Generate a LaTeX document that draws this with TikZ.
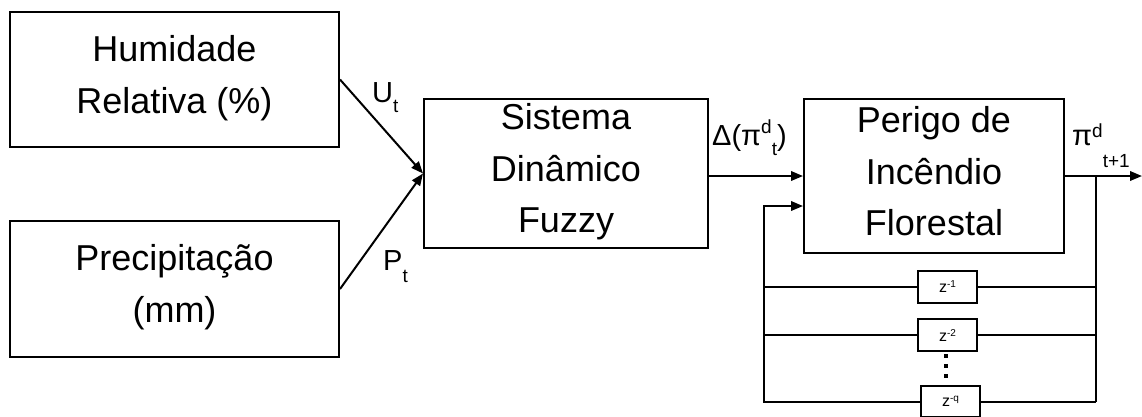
\documentclass[tikz,border=0pt]{standalone}
\usepackage{fontspec}
\setmainfont{Liberation Sans}
\usetikzlibrary{arrows.meta}
\newcommand\upx[2][12pt]{\raisebox{#1}{\fontsize{19}{19}\selectfont #2}}
\newcommand\dnx[2][10pt]{\raisebox{-#1}{\fontsize{19}{19}\selectfont #2}}
\newcommand\zsup[1]{\raisebox{5pt}{\fontsize{10}{10}\selectfont #1}}
\begin{document}
\begin{tikzpicture}[x=1pt,y=-1pt,
  box/.style={draw, line width=2pt, inner sep=0pt},
  big/.style={font=\fontsize{36}{51.5}\selectfont, align=center, inner sep=0pt},
  lab/.style={font=\fontsize{29}{29}\selectfont, inner sep=0pt, anchor=base west},
  zb/.style={draw, line width=2pt, inner sep=0pt, minimum width=59pt, minimum height=32pt, font=\fontsize{16}{16}\selectfont},
  ln/.style={line width=2pt},
  arr/.style={line width=2pt, -{Triangle[length=12pt,width=9.5pt]}}]
\useasboundingbox (0,0) rectangle (1142,416);
\clip (0,0) rectangle (1142,416);
% main boxes
\node[box, minimum width=329pt, minimum height=135pt] (hum) at (174.5,79.5) {};
\node[big] (humt) at (174.5,87.5) {\smash{Humidade}\\\smash{Relativa (\%)}};
\node[box, minimum width=329pt, minimum height=136pt] (pre) at (174.5,289) {};
\node[big] (pret) at (174.5,296.7) {\smash{Precipitação}\\\smash{(mm)}};
\node[box, minimum width=284pt, minimum height=149pt] (sis) at (566,173.5) {};
\node[big] (sist) at (566,181) {\smash{Sistema}\\\smash{Dinâmico}\\\smash{Fuzzy}};
\node[box, minimum width=260pt, minimum height=154pt] (per) at (934,176) {};
\node[big] (pert) at (934,184) {\smash{Perigo de}\\\smash{Incêndio}\\\smash{Florestal}};
% delay boxes
\node[zb] (z1) at (947.5,286.5) {z\zsup{-1}};
\node[zb] (z2) at (947.5,335) {z\zsup{-2}};
\node[zb, minimum height=31pt] (zq) at (950.5,401.5) {z\zsup{-q}};
\foreach \yy in {354,364,374} \fill (943.5,\yy) rectangle ++(4,4);
% connectors
\draw[arr] (hum.east) -- (sis.west);
\draw[arr] (pre.east) -- (sis.west);
\coordinate (a1) at (sis.east |- per.west);
\draw[arr] (a1) -- (per.west);
\coordinate (br) at (1096,176);
\coordinate (out) at (1142,176);
\coordinate (bb) at (1096,401.5);
\coordinate (fb) at (764,206);
\draw[arr] (per.east) -- (out);
\draw[ln] (br) -- (bb);
\draw[ln] (z1.east) -- (z1.east -| br);
\draw[ln] (z2.east) -- (z2.east -| br);
\draw[ln] (zq.east) -- (bb);
\draw[ln] (z1.west) -- (z1.west -| fb);
\draw[ln] (z2.west) -- (z2.west -| fb);
\draw[arr] (zq.west) -| (fb) -- (fb -| per.west);
% labels
\node[lab] (ut) at (372,102) {U\dnx{t}};
\node[lab] (pt) at (383,270) {P\dnx[12pt]{t}};
\node[lab] (dl) at (712,145) {Δ(π\upx{d}\dnx{t})};
\node[lab] (pl) at (1072,145) {π\upx[8pt]{d}\dnx[22pt]{t+1}};
\end{tikzpicture}
\end{document}
